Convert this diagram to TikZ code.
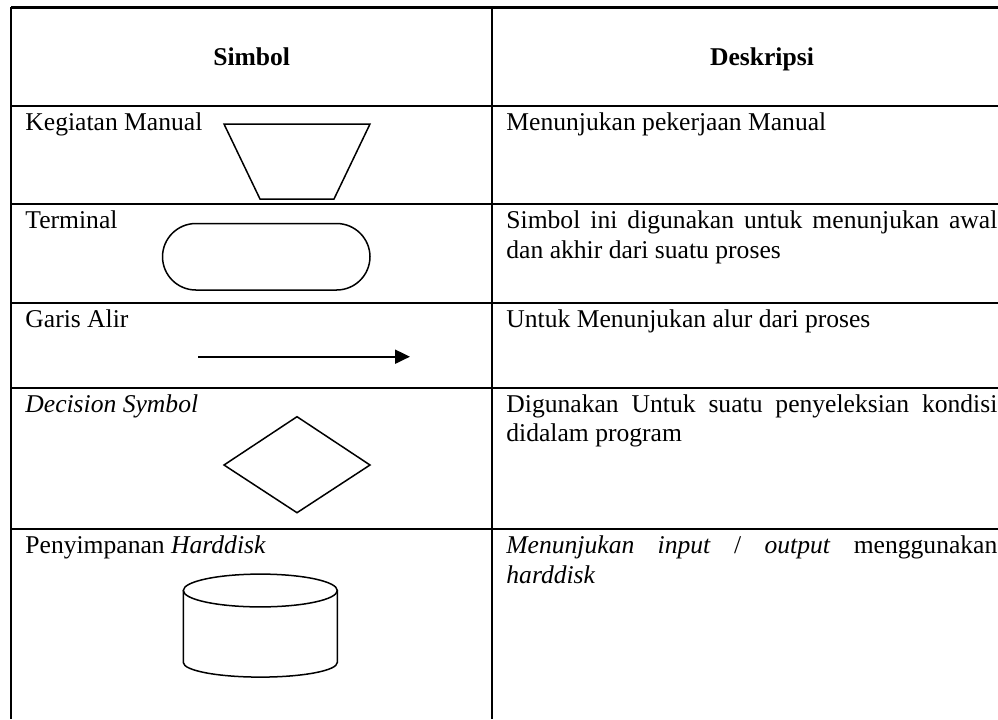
\documentclass[tikz,border=0pt]{standalone}
\usepackage{fontspec}
\setmainfont{Liberation Serif}
\usetikzlibrary{arrows.meta}

\begin{document}
\begin{tikzpicture}[x=0.5pt,y=-0.5pt,
  hline/.style={line width=1.1pt},
  vline/.style={line width=0.8pt},
  symline/.style={line width=0.75pt, line join=miter},
  cell/.style={anchor=base west, inner sep=0pt, font=\fontsize{12.8}{15}\selectfont},
  headcell/.style={anchor=base, inner sep=0pt, font=\fontsize{12.8}{15}\selectfont\bfseries}]
\useasboundingbox (0,0) rectangle (998,719);

% table rules
\draw[hline] (11,7.5) -- (998,7.5);
\foreach \y in {106,204,303,388,529}
  \draw[hline] (11,\y) -- (998,\y);
\draw[vline] (11,7) -- (11,719);
\draw[vline] (492,7) -- (492,719);

% header
\node[headcell] (hsym) at (251.7,65) {Simbol};
\node[headcell] (hdesc) at (762,65) {Deskripsi};

% left column labels
\node[cell] (lmanual) at (25,130) {Kegiatan Manual};
\node[cell] (lterm) at (25,228) {Terminal};
\node[cell] (lflow) at (25,327) {Garis Alir};
\node[cell] (ldec) at (25,412) {\textit{Decision Symbol}};
\node[cell] (lhdd) at (25,553) {Penyimpanan \textit{Harddisk}};

% right column descriptions
\node[cell] (dmanual) at (506,130) {Menunjukan pekerjaan Manual};
\node[cell] (dterm1) at (506,228) {\makebox[245.5pt][s]{Simbol ini digunakan untuk menunjukan awal}};
\node[cell] (dterm2) at (506,258) {dan akhir dari suatu proses};
\node[cell] (dflow) at (506,327) {Untuk Menunjukan alur dari proses};
\node[cell] (ddec1) at (506,412) {\makebox[245.5pt][s]{Digunakan Untuk suatu penyeleksian kondisi}};
\node[cell] (ddec2) at (506,441) {didalam program};
\node[cell] (dhdd1) at (506,553) {\makebox[245.5pt][s]{\textit{Menunjukan} \textit{input} / \textit{output} menggunakan}};
\node[cell] (dhdd2) at (506,583) {\textit{harddisk}};

% manual operation: inverted trapezium
\draw[symline] (224,124) -- (370,124) -- (334,199) -- (260,199) -- cycle;

% terminal: stadium
\draw[symline, rounded corners=16.7pt] (162.5,223.5) rectangle (370,290);

% flow line
\coordinate (fs) at (198,356.7);
\coordinate (fe) at (410,356.7);
\draw[line width=1pt, -{Triangle[length=7.5pt,width=7pt]}] (fs) -- (fe);

% decision: diamond
\draw[symline] (297,416.7) -- (370,465) -- (297,512.7) -- (224,465) -- cycle;

% hard disk storage: cylinder
\draw[symline] (260.3,590.5) ellipse [x radius=38.5pt, y radius=8.2pt];
\draw[symline] (183.3,590.5) -- (183.3,662.5)
  arc[start angle=180, end angle=360, x radius=38.5pt, y radius=7.3pt]
  -- (337.3,590.5);
\end{tikzpicture}
\end{document}
